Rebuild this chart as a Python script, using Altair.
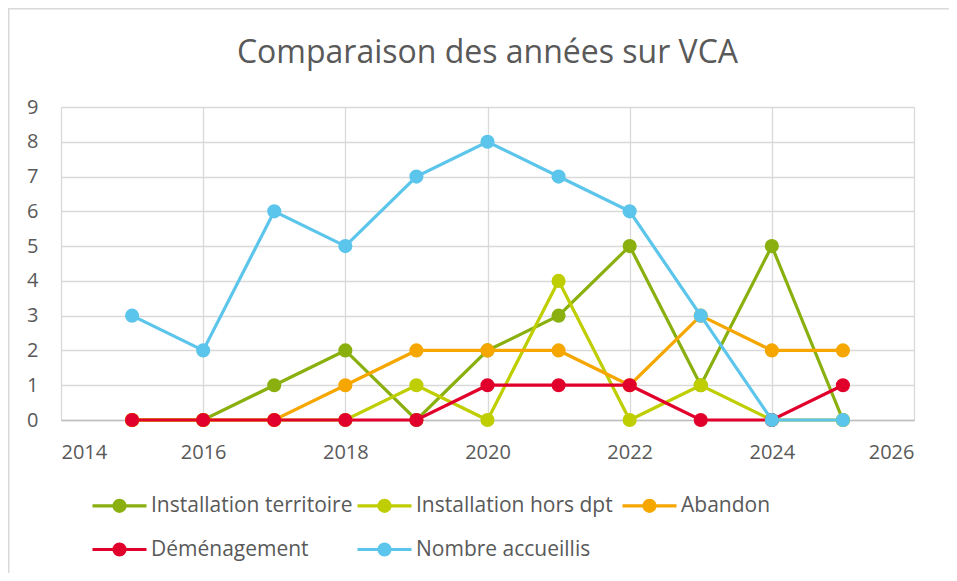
import altair as alt
import pandas as pd

years = [2015, 2016, 2017, 2018, 2019, 2020, 2021, 2022, 2023, 2024, 2025]
series_names = ["Installation territoire", "Installation hors dpt", "Abandon",
                "Déménagement", "Nombre accueillis"]
installation_territoire = [0, 0, 1, 2, 0, 2, 3, 5, 1, 5, 0]
installation_hors_dpt = [0, 0, 0, 0, 1, 0, 4, 0, 1, 0, 0]
abandon = [0, 0, 0, 1, 2, 2, 2, 1, 3, 2, 2]
demenagement = [0, 0, 0, 0, 0, 1, 1, 1, 0, 0, 1]
nombre_accueillis = [3, 2, 6, 5, 7, 8, 7, 6, 3, 0, 0]
series_colors = ["#8AB00F", "#BFCE00", "#F5A700", "#E1002B", "#5CC5EB"]
x_ticks = [2014, 2016, 2018, 2020, 2022, 2024, 2026]
y_ticks = [0, 1, 2, 3, 4, 5, 6, 7, 8, 9]

values = [installation_territoire, installation_hors_dpt, abandon,
          demenagement, nombre_accueillis]
rows = []
for name, vals in zip(series_names, values):
    for yr, v in zip(years, vals):
        rows.append({"annee": yr, "valeur": v, "serie": name})
df = pd.DataFrame(rows)

FONT = "Open Sans"
TXT = "#595959"

x_enc = alt.X("annee:Q", scale=alt.Scale(domain=[2014, 2026], nice=False),
              axis=alt.Axis(values=x_ticks, format="d", title=None, ticks=False,
                            grid=True, gridColor="#D9D9D9", gridWidth=1.3,
                            domainColor="#BFBFBF", domainWidth=1.5,
                            labelFont=FONT, labelFontSize=20, labelColor=TXT,
                            labelPadding=22))
y_enc = alt.Y("valeur:Q", scale=alt.Scale(domain=[0, 9], nice=False),
              axis=alt.Axis(values=y_ticks, title=None, ticks=False, domain=False,
                            grid=True, gridColor="#D9D9D9", gridWidth=1.3,
                            labelFont=FONT, labelFontSize=20, labelColor=TXT,
                            labelPadding=23))

sym = ("M-2,0L2,0"
       "M-0.407,0a0.407,0.407 0 1,0 0.814,0a0.407,0.407 0 1,0 -0.814,0"
       "M-0.222,0a0.222,0.222 0 1,0 0.444,0a0.222,0.222 0 1,0 -0.444,0"
       "M-0.06,0a0.06,0.06 0 1,0 0.12,0a0.06,0.06 0 1,0 -0.12,0")

legend = alt.Legend(title=None, orient="none", legendX=43, legendY=383,
                    direction="horizontal",
                    columns=3, gridAlign="all", columnPadding=-2, rowPadding=16,
                    symbolType=sym, symbolSize=729, symbolStrokeWidth=3.2,
                    labelOffset=16, labelFont=FONT, labelFontSize=21,
                    labelColor=TXT, labelLimit=400, padding=0)

stroke_scale = alt.Scale(domain=series_names, range=series_colors)

layers = []
base = alt.Chart(df)
for name in series_names:
    sub = base.transform_filter(alt.datum.serie == name)
    line = sub.mark_line(strokeWidth=3.2).encode(
        x=x_enc, y=y_enc,
        stroke=alt.Stroke("serie:N", scale=stroke_scale, legend=legend,
                          sort=series_names))
    pts = sub.mark_point(filled=True, size=200, opacity=1).encode(
        x=x_enc, y=y_enc,
        fill=alt.Fill("serie:N", scale=stroke_scale, legend=None,
                      sort=series_names))
    layers += [line, pts]

frame = alt.Chart(pd.DataFrame({"k": [0]})).mark_rect(
    fillOpacity=0, stroke="#D9D9D9", strokeWidth=2).encode(
    x=alt.value(-52.5), y=alt.value(-98.5), x2=alt.value(1000), y2=alt.value(700))

chart = alt.layer(frame, *layers).properties(
    width=853, height=313,
    autosize="none",
    padding={"left": 53, "top": 99, "right": 35, "bottom": 153},
    title=alt.TitleParams("Comparaison des années sur VCA", font=FONT,
                          fontSize=32, fontWeight="normal", color=TXT,
                          anchor="middle", frame="group",
                          baseline="alphabetic", offset=41, dy=128.5),
).configure_view(stroke=None).configure(background="white")

chart.save("out.html", embed_options={"renderer": "svg", "actions": False})
